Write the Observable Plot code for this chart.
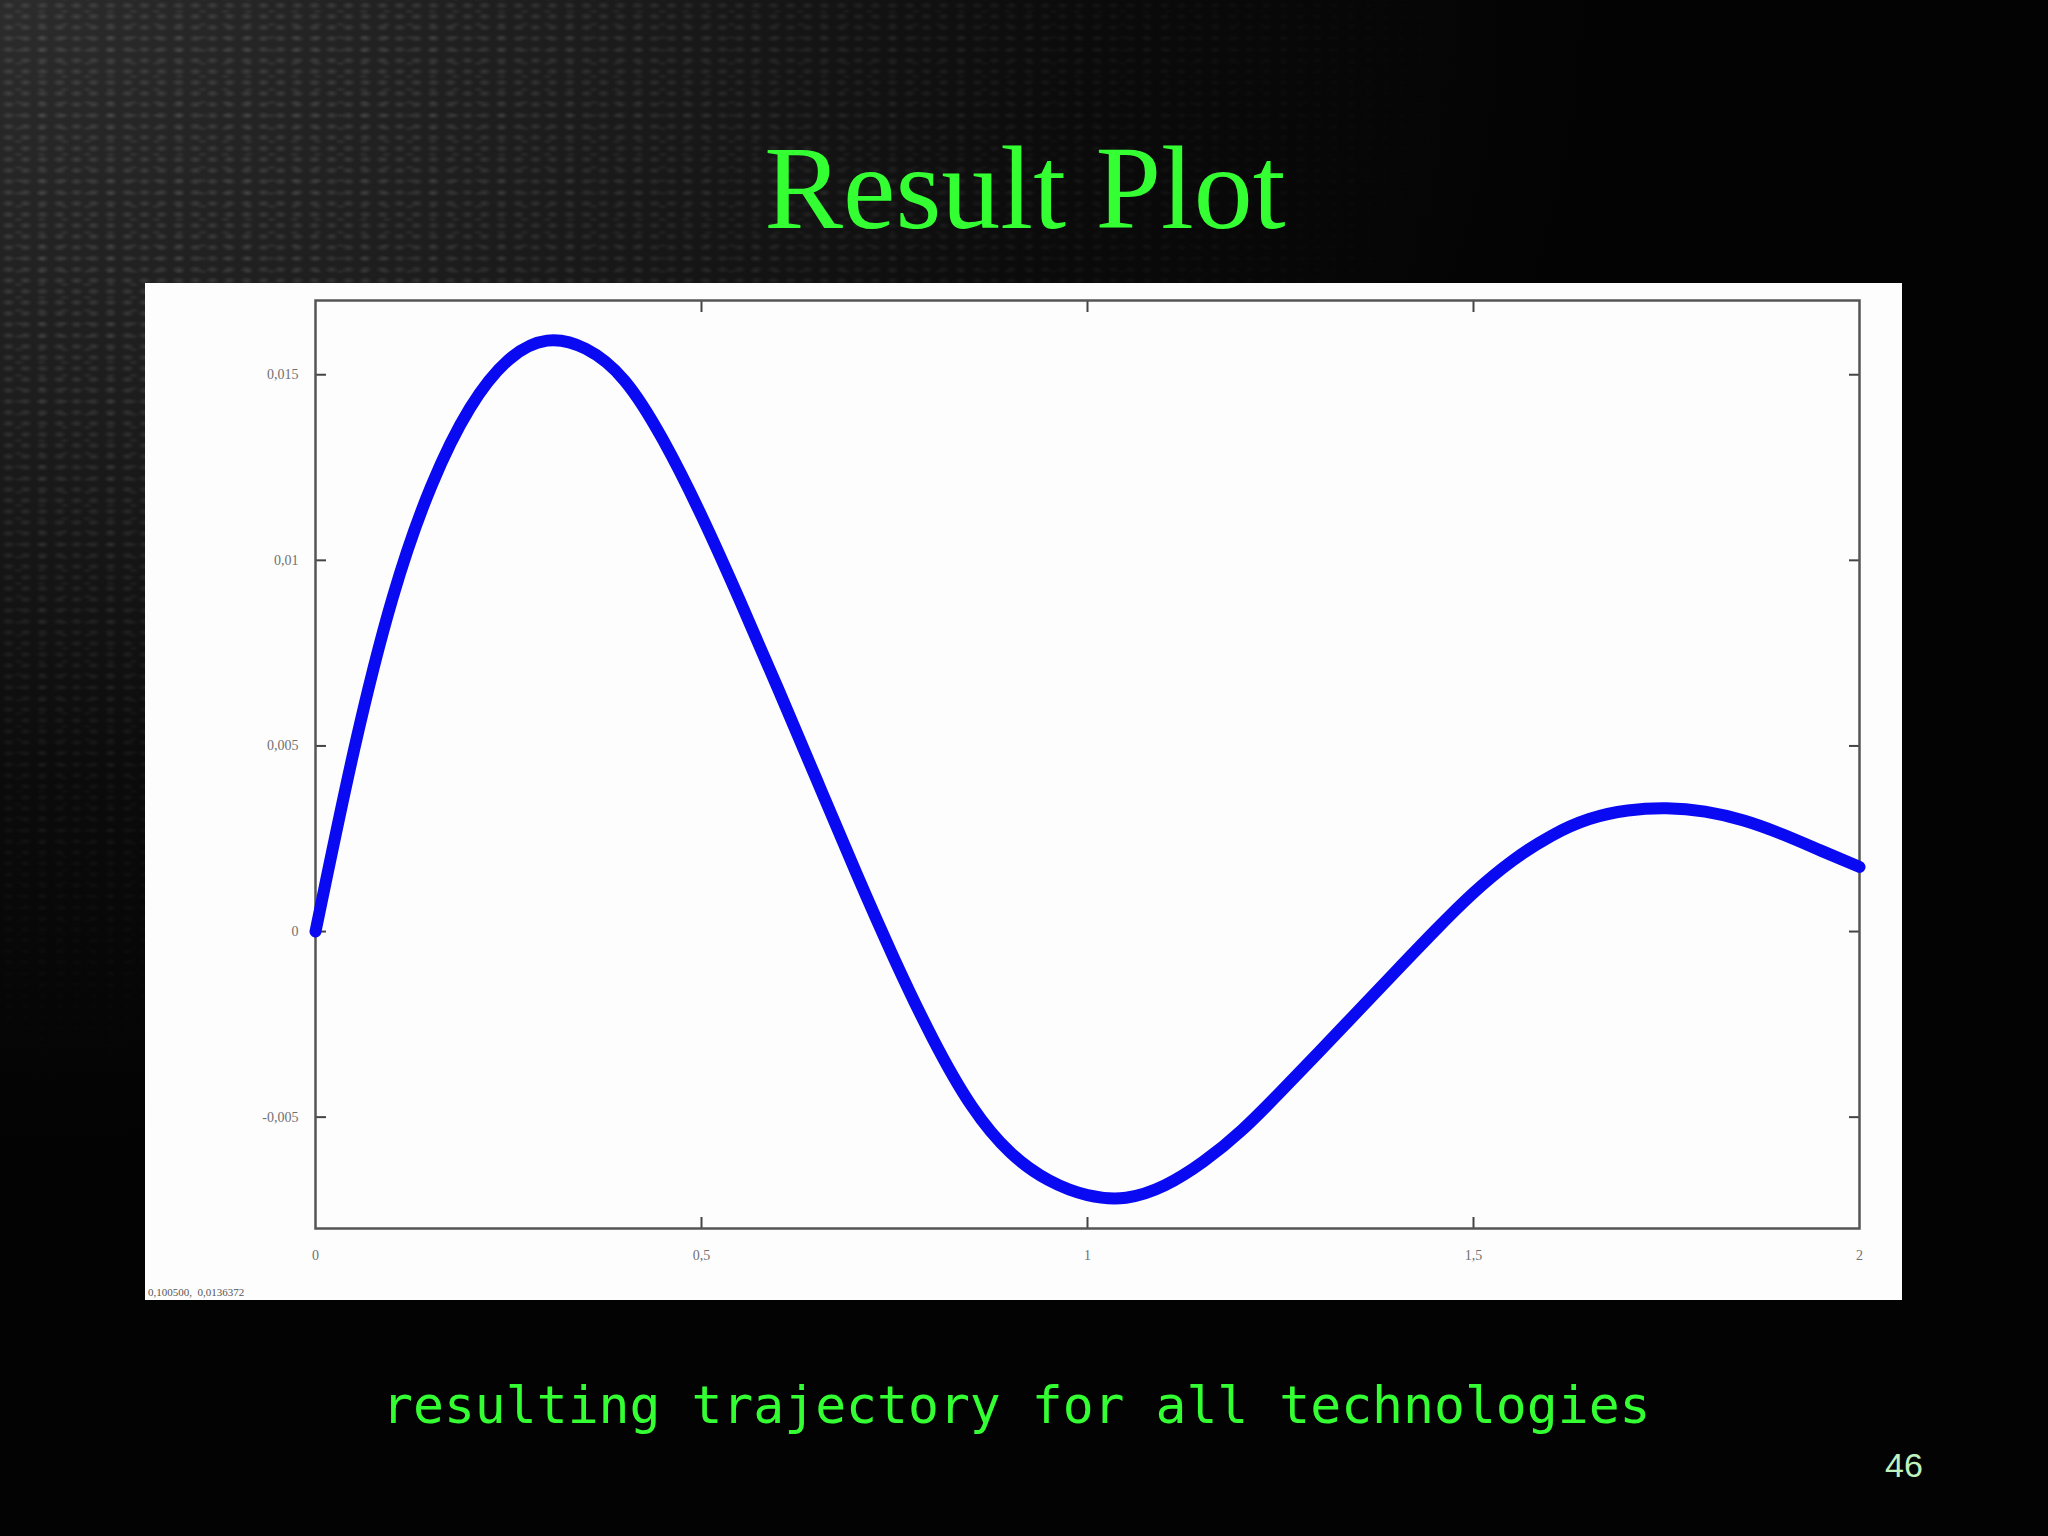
<!DOCTYPE html>
<html>
<head>
<meta charset="utf-8">
<script src="https://cdn.jsdelivr.net/npm/d3@7"></script>
<script src="https://cdn.jsdelivr.net/npm/@observablehq/plot@0.6"></script>
<style>
  html, body { margin: 0; padding: 0; }
  body { width: 2048px; height: 1536px; position: relative; overflow: hidden; background: #030303; }
  #bg { position: absolute; inset: 0;
    background: radial-gradient(ellipse 1600px 1150px at 0px 0px, #2c2c2c 0%, #1d1d1d 35%, #0b0b0b 68%, #030303 100%); }
  #tex { position: absolute; inset: 0;
    background-image:
      radial-gradient(ellipse 7px 4px at 50% 50%, rgba(190,190,190,0.16) 0%, rgba(190,190,190,0) 100%),
      radial-gradient(ellipse 6px 3px at 50% 50%, rgba(170,170,170,0.10) 0%, rgba(170,170,170,0) 100%);
    background-size: 17px 11px, 23px 13px;
    background-position: 0 0, 7px 5px;
    -webkit-mask-image: radial-gradient(ellipse 1500px 1100px at 0 0, #000 25%, transparent 100%);
    mask-image: radial-gradient(ellipse 1500px 1100px at 0 0, #000 25%, transparent 100%); }
  #title { position: absolute; left: 0; width: 2050px; top: 130px; text-align: center;
    font-family: "Liberation Serif", serif; font-size: 118px; line-height: 118px; color: #33ff33; white-space: nowrap; }
  #chart { position: absolute; left: 145px; top: 283px; }
  #coords { position: absolute; left: 148px; top: 1287px; font-family: "Liberation Serif", serif; font-size: 11px;
    line-height: 11px; color: #555; white-space: nowrap; }
  #caption { position: absolute; left: 382px; top: 1380px; font-family: "DejaVu Sans Mono", monospace;
    font-size: 51.4px; line-height: 51px; color: #33ff33; white-space: pre; }
  #page { position: absolute; left: 1885px; top: 1448px; font-family: "Liberation Sans", sans-serif;
    font-size: 34px; line-height: 34px; color: #bff2bf; }
</style>
</head>
<body>
<div id="bg"></div>
<div id="tex"></div>
<div id="title">Result Plot</div>
<div id="chart"></div>
<div id="coords">0,100500,&nbsp;&nbsp;0,0136372</div>
<div id="caption">resulting trajectory for all technologies</div>
<div id="page">46</div>
<script>
const xs = [0, 0.05, 0.1, 0.15, 0.2, 0.25, 0.3, 0.35, 0.4, 0.45, 0.5, 0.55, 0.6, 0.65, 0.7, 0.75, 0.8, 0.85, 0.9, 0.95,
  1.0, 1.05, 1.1, 1.15, 1.2, 1.25, 1.3, 1.35, 1.4, 1.45, 1.5, 1.55, 1.6, 1.65, 1.7, 1.75, 1.8, 1.85, 1.9, 1.95, 2.0];
const ys = [0, 0.0049, 0.009, 0.012, 0.0141, 0.0154, 0.01592, 0.0157, 0.01485, 0.01325, 0.0112, 0.0089, 0.0065, 0.00405, 0.0016,
  -0.00075, -0.0029, -0.0047, -0.00595, -0.0067, -0.0071, -0.00717, -0.00684, -0.0062, -0.00535, -0.00432, -0.00324, -0.00215,
  -0.00106, 0.00002, 0.00104, 0.0019, 0.00257, 0.00303, 0.00326, 0.00332, 0.00323, 0.00299, 0.00262, 0.00218, 0.00174];
const yTicks = [-0.005, 0, 0.005, 0.01, 0.015];
const xTicks = [0, 0.5, 1, 1.5, 2];
const xInnerTicks = [0.5, 1, 1.5];

const data = xs.map((x, i) => ({x, y: ys[i]}));
const fmt = d => String(d).replace(".", ",");

const chart = Plot.plot({
  width: 1757, height: 1017,
  marginLeft: 170, marginRight: 43, marginTop: 17, marginBottom: 72,
  style: {background: "#fdfdfd", fontFamily: "Liberation Serif", fontSize: "14px", color: "#666", overflow: "visible"},
  x: {domain: [0, 2]},
  y: {domain: [-0.008, 0.017]},
  marks: [
    Plot.axisY(yTicks, {anchor: "left", tickSize: -11, fill: "none", stroke: "#444", strokeWidth: 2, label: null}),
    Plot.axisY(yTicks, {anchor: "right", tickSize: -11, fill: "none", stroke: "#444", strokeWidth: 2, label: null}),
    Plot.axisY(yTicks, {anchor: "left", tickSize: 0, tickPadding: 17, tickFormat: fmt, fill: "#707070", label: null}),
    Plot.axisX(xInnerTicks, {anchor: "top", tickSize: -11, fill: "none", stroke: "#444", strokeWidth: 2, label: null}),
    Plot.axisX(xInnerTicks, {anchor: "bottom", tickSize: -11, fill: "none", stroke: "#444", strokeWidth: 2, label: null}),
    Plot.axisX(xTicks, {anchor: "bottom", tickSize: 0, tickPadding: 22, tickFormat: fmt, fill: "#707070", label: null}),
    Plot.frame({stroke: "#555", strokeWidth: 2.5}),
    Plot.line(data, {x: "x", y: "y", stroke: "#0a0af2", strokeWidth: 12, curve: "natural"})
  ]
});
document.getElementById("chart").appendChild(chart);
</script>
</body>
</html>
